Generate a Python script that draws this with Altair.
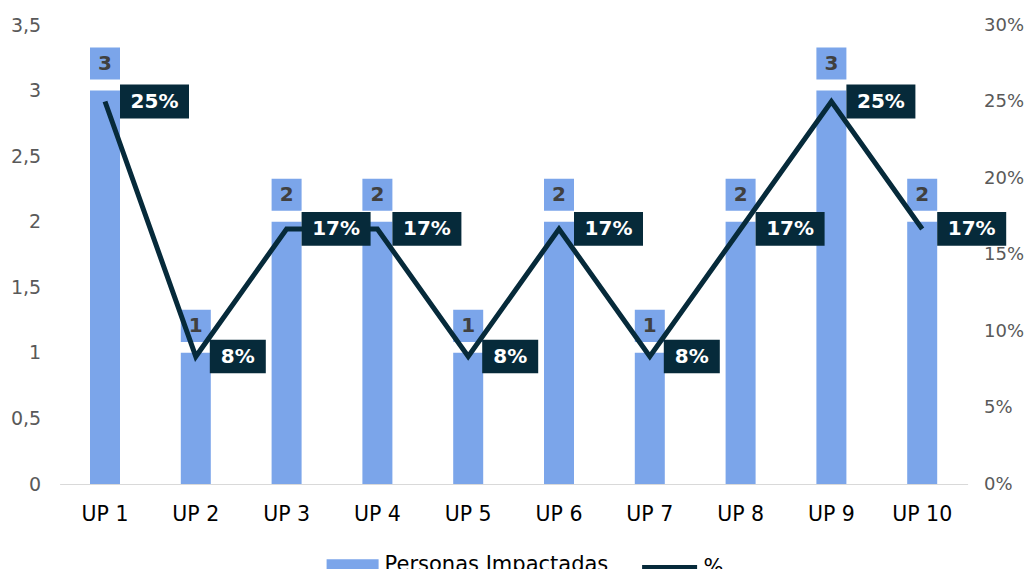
import altair as alt
import pandas as pd

categories = ["UP 1", "UP 2", "UP 3", "UP 4", "UP 5", "UP 6", "UP 7", "UP 8", "UP 9", "UP 10"]
personas = [3, 1, 2, 2, 1, 2, 1, 2, 3, 2]
pct = [0.25, 0.0833, 0.1667, 0.1667, 0.0833, 0.1667, 0.0833, 0.1667, 0.25, 0.1667]
pct_labels = ["25%", "8%", "17%", "17%", "8%", "17%", "8%", "17%", "25%", "17%"]

BLUE = "#7BA5EA"
NAVY = "#062A3A"
FONT = "DejaVu Sans"

df = pd.DataFrame({
    "cat": categories,
    "personas": personas,
    "pct": pct,
    "pct_label": pct_labels,
    "s1": ["Personas Impactadas"] * len(categories),
    "s2": ["%"] * len(categories),
})

x = alt.X("cat:N", sort=categories, title=None,
          scale=alt.Scale(paddingInner=0.2, paddingOuter=0.1),
          axis=alt.Axis(labelAngle=0, labelFont=FONT, labelFontSize=20.5, labelColor="#000000",
                        labelPadding=20, ticks=False, domainColor="#D9D9D9", domainWidth=1))

yl_scale = alt.Scale(domain=[0, 3.5])
yr_scale = alt.Scale(domain=[0, 0.3])

base = alt.Chart(df)

bars = base.mark_bar(width=30).encode(
    x=x,
    y=alt.Y("personas:Q", scale=yl_scale, title=None,
            axis=alt.Axis(values=[0, 0.5, 1, 1.5, 2, 2.5, 3, 3.5], grid=False, domain=False, ticks=False,
                          labelFont=FONT, labelFontSize=19, labelColor="#595959", labelPadding=19,
                          labelExpr="replace(format(datum.value, '.1~f'), '.', ',')")),
    fill=alt.Fill("s1:N", scale=alt.Scale(domain=["Personas Impactadas"], range=[BLUE]),
                  legend=alt.Legend(title=None, orient="none", legendX=280, legendY=527,
                                    direction="horizontal",
                                    symbolType="M-2,-0.45H2V0.45H-2Z", symbolSize=676,
                                    symbolStrokeWidth=0, symbolOpacity=1, labelLimit=0,
                                    labelFont=FONT, labelFontSize=21, labelColor="#000000",
                                    labelOffset=19, padding=0)),
)

bar_boxes = base.mark_point(shape="M-1,-1.07H1V1.07H-1Z", size=900, filled=True, opacity=1,
                            color=BLUE, strokeWidth=0, yOffset=-27).encode(
    x=alt.X("cat:N", sort=categories),
    y=alt.Y("personas:Q", scale=yl_scale),
)
bar_text = base.mark_text(font=FONT, fontSize=20, fontWeight="bold", color="#404040",
                          baseline="middle", yOffset=-27).encode(
    x=alt.X("cat:N", sort=categories),
    y=alt.Y("personas:Q", scale=yl_scale),
    text="personas:Q",
)

left = alt.layer(bars, bar_boxes, bar_text)

line = base.mark_line(strokeWidth=5).encode(
    x=alt.X("cat:N", sort=categories),
    y=alt.Y("pct:Q", scale=yr_scale, title=None,
            axis=alt.Axis(orient="right", values=[0, 0.05, 0.1, 0.15, 0.2, 0.25, 0.3], format=".0%",
                          grid=False, domain=False, ticks=False, labelFont=FONT, labelFontSize=18,
                          labelColor="#595959", labelPadding=16)),
    stroke=alt.Stroke("s2:N", scale=alt.Scale(domain=["%"], range=[NAVY]),
                      legend=alt.Legend(title=None, orient="none", legendX=580, legendY=512.5,
                                        direction="horizontal",
                                        symbolType="stroke", symbolSize=3025, symbolStrokeWidth=5,
                                        labelFont=FONT, labelFontSize=21, labelColor="#000000",
                                        labelOffset=4, padding=0, labelLimit=0)),
)

wide = base.transform_filter("datum.pct >= 0.1")
narrow = base.transform_filter("datum.pct < 0.1")

pct_box_w = wide.mark_point(shape="M-1,-0.49H1V0.49H-1Z", size=4761, filled=True, opacity=1,
                            color=NAVY, strokeWidth=0, xOffset=49.5).encode(
    x=alt.X("cat:N", sort=categories), y=alt.Y("pct:Q", scale=yr_scale))
pct_box_n = narrow.mark_point(shape="M-1,-0.6H1V0.6H-1Z", size=3136, filled=True, opacity=1,
                              color=NAVY, strokeWidth=0, xOffset=42).encode(
    x=alt.X("cat:N", sort=categories), y=alt.Y("pct:Q", scale=yr_scale))
pct_text_w = wide.mark_text(font=FONT, fontSize=20, fontWeight="bold", color="#FFFFFF",
                            baseline="middle", xOffset=49.5).encode(
    x=alt.X("cat:N", sort=categories), y=alt.Y("pct:Q", scale=yr_scale), text="pct_label:N")
pct_text_n = narrow.mark_text(font=FONT, fontSize=20, fontWeight="bold", color="#FFFFFF",
                              baseline="middle", xOffset=42).encode(
    x=alt.X("cat:N", sort=categories), y=alt.Y("pct:Q", scale=yr_scale), text="pct_label:N")

right = alt.layer(line, pct_box_w, pct_box_n, pct_text_w, pct_text_n)

chart = alt.layer(left, right).resolve_scale(y="independent").properties(
    width=908, height=459,
    autosize=alt.AutoSizeParams(type="none"),
    padding={"left": 51.6, "top": 17, "right": 58.4, "bottom": 85},
    background="#FFFFFF",
).configure_view(stroke=None)

chart.save("out.html", embed_options={"renderer": "svg", "actions": False})
